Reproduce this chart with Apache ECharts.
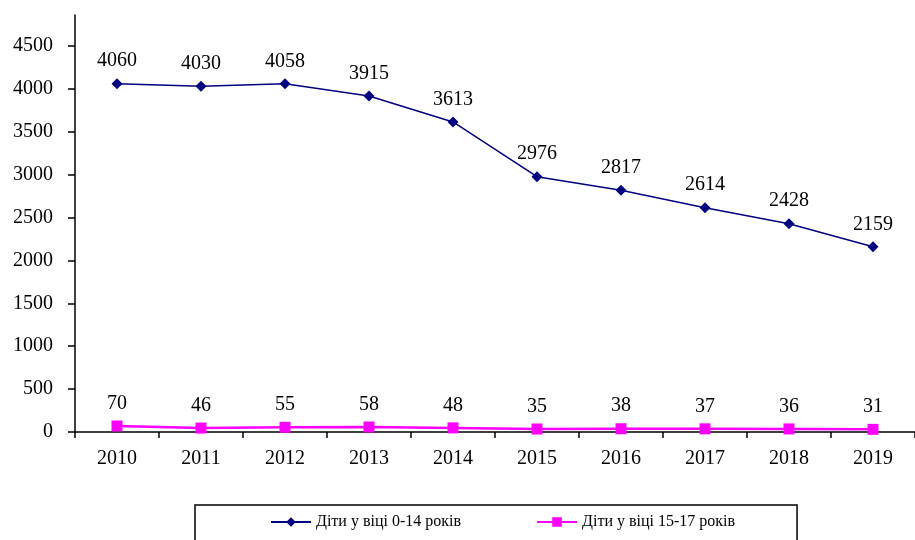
<!DOCTYPE html>
<html>
<head>
<meta charset="utf-8">
<script src="https://cdn.jsdelivr.net/npm/echarts@6/dist/echarts.min.js"></script>
<style>html,body{margin:0;padding:0;background:#fff}#c{width:915px;height:540px}</style>
</head>
<body>
<div id="c"></div>
<script>
const years = ['2010','2011','2012','2013','2014','2015','2016','2017','2018','2019'];
const kids0to14 = [4060,4030,4058,3915,3613,2976,2817,2614,2428,2159];
const kids15to17 = [70,46,55,58,48,35,38,37,36,31];
const yTicks = [0,500,1000,1500,2000,2500,3000,3500,4000,4500];
const seriesNames = ['Діти у віці 0-14 років','Діти у віці 15-17 років'];

const font = 'Liberation Serif, Times New Roman, serif';
const chart = echarts.init(document.getElementById('c'));
chart.setOption({
  backgroundColor: '#ffffff',
  animation: false,
  grid: {left: 75, top: 15, width: 844, bottom: 108, containLabel: false},
  xAxis: {
    type: 'category', data: years, boundaryGap: true,
    axisLine: {lineStyle: {color: '#000', width: 1.5}},
    axisTick: {show: true, length: 6, inside: false, lineStyle: {color: '#000', width: 1.5}},
    axisLabel: {color: '#000', fontFamily: font, fontSize: 20, margin: 17},
    splitLine: {show: false}
  },
  yAxis: {
    type: 'value', min: 0, max: 4860, interval: 500,
    axisLine: {show: true, lineStyle: {color: '#000', width: 1.5}},
    axisTick: {show: true, length: 7, customValues: yTicks, lineStyle: {color: '#000', width: 1.5}},
    axisLabel: {color: '#000', fontFamily: font, fontSize: 20, margin: 22, customValues: yTicks,
      formatter: function (v) { return String(v); }},
    splitLine: {show: false}
  },
  legend: {
    data: seriesNames,
    left: 195, top: 505,
    padding: [9, 62, 30, 75],
    itemGap: 75, itemWidth: 40, itemHeight: 12,
    borderColor: '#000', borderWidth: 1.5,
    textStyle: {color: '#000', fontFamily: font, fontSize: 16}
  },
  series: [
    {
      name: seriesNames[0], type: 'line', data: kids0to14,
      symbol: 'diamond', symbolSize: 11,
      lineStyle: {color: '#000080', width: 1.5},
      itemStyle: {color: '#000080'},
      label: {show: true, position: 'top', distance: 7, color: '#000', fontFamily: font, fontSize: 20}
    },
    {
      name: seriesNames[1], type: 'line', data: kids15to17,
      symbol: 'rect', symbolSize: 11,
      lineStyle: {color: '#ff00ff', width: 2.5},
      itemStyle: {color: '#ff00ff'},
      label: {show: true, position: 'top', distance: 7, color: '#000', fontFamily: font, fontSize: 20}
    }
  ]
});
</script>
</body>
</html>
